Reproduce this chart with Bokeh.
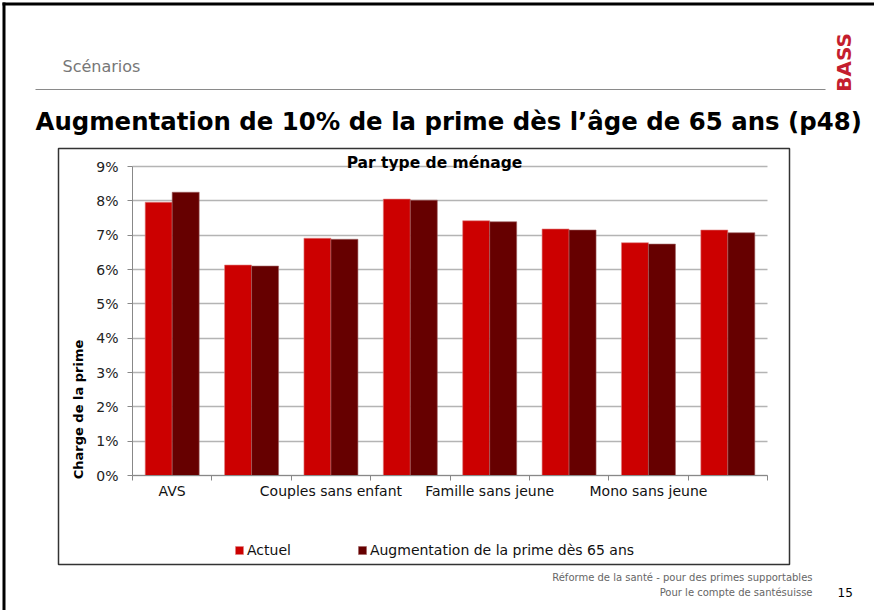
import numpy as np
from bokeh.plotting import figure
from bokeh.models import (Label, BoxAnnotation, Legend, LegendItem, FixedTicker,
                          Range1d)
from bokeh.embed import file_html
from bokeh.resources import INLINE

# ---------------- data ----------------
categories = ["AVS", "", "Couples sans enfant", "", "Famille sans jeune", "",
              "Mono sans jeune", ""]
series_names = ["Actuel", "Augmentation de la prime dès 65 ans"]
actuel = [7.96, 6.13, 6.91, 8.05, 7.42, 7.18, 6.78, 7.15]
augmentation = [8.25, 6.10, 6.88, 8.02, 7.39, 7.15, 6.74, 7.07]
y_ticks = [0, 1, 2, 3, 4, 5, 6, 7, 8, 9]
y_tick_labels = ["0%", "1%", "2%", "3%", "4%", "5%", "6%", "7%", "8%", "9%"]

slide_section = "Scénarios"
slide_title = "Augmentation de 10% de la prime dès l’âge de 65 ans (p48)"
chart_title = "Par type de ménage"
y_title = "Charge de la prime"
footer_1 = "Réforme de la santé - pour des primes supportables"
footer_2 = "Pour le compte de santésuisse"
page_number = "15"
logo = "BASS"

# ---------------- layout (pixel positions on the page) ----------------
W, H = 874, 610
OFF = 0                                  # figure's offset on the page
PL, PT, PR, PB = 132, 166, 767, 475      # plot area edges (page px)

FONT = "DejaVu Sans"
RED = "#CC0000"
DARK = "#660000"

n = len(categories)
x_lo, x_hi = 0.5, n + 0.5
y_lo, y_hi = y_ticks[0], y_ticks[-1]
kx = (PR - PL) / (x_hi - x_lo)
ky = (PB - PT) / (y_hi - y_lo)
x_start = x_lo - (PL - OFF) / kx
x_end = x_hi + (OFF + W - PR) / kx
y_start = y_lo - (OFF + H - PB) / ky
y_end = y_hi + (PT - OFF) / ky


def sx(ax):
    return ax - OFF


def sy(ay):
    return OFF + H - ay


xs = np.arange(1, n + 1)

p = figure(width=W, height=H, output_backend="svg", toolbar_location=None,
           x_range=Range1d(x_start, x_end), y_range=Range1d(y_start, y_end),
           min_border=0, min_border_left=0, min_border_right=0,
           min_border_top=0, min_border_bottom=0)
p.outline_line_color = None
p.background_fill_color = "white"
p.border_fill_color = "white"

r1 = p.vbar(x=xs - 0.17, top=actuel, width=0.34, fill_color=RED,
            line_color="#e08080", line_width=0.6)
r2 = p.vbar(x=xs + 0.17, top=augmentation, width=0.34, fill_color=DARK,
            line_color="#a06060", line_width=0.6)

# x axis
xa = p.xaxis[0]
xa.fixed_location = y_lo
xa.bounds = (x_lo, x_hi)
xa.ticker = FixedTicker(ticks=list(xs),
                        minor_ticks=list(np.arange(x_lo, x_hi + 0.5, 1.0)))
xa.major_label_overrides = {int(x): c for x, c in zip(xs, categories)}
xa.major_tick_out = 0
xa.major_tick_in = 0
xa.minor_tick_out = 5
xa.minor_tick_in = 0
xa.minor_tick_line_color = "#888888"
xa.axis_line_color = "#888888"
xa.major_label_standoff = 2
xa.major_label_text_font = FONT
xa.major_label_text_font_size = "14px"
xa.major_label_text_color = "#111111"
p.xgrid.grid_line_color = None

# y axis
ya = p.yaxis[0]
ya.fixed_location = x_lo
ya.bounds = (y_lo, y_hi)
ya.ticker = FixedTicker(ticks=y_ticks, minor_ticks=[])
ya.major_label_overrides = {t: l for t, l in zip(y_ticks, y_tick_labels)}
ya.major_tick_out = 5
ya.major_tick_in = 0
ya.major_tick_line_color = "#888888"
ya.axis_line_color = "#888888"
ya.major_label_standoff = 9
ya.major_label_text_font = FONT
ya.major_label_text_font_size = "14px"
ya.major_label_text_color = "#222222"
p.ygrid.grid_line_color = "#b4b4b4"
p.ygrid.grid_line_width = 1.5
p.ygrid.cross_bounds = (x_lo, x_hi)

# legend
legend = Legend(items=[LegendItem(label=series_names[0], renderers=[r1]),
                       LegendItem(label=series_names[1], renderers=[r2])],
                location=(sx(234), sy(558)), orientation="horizontal",
                glyph_width=10, glyph_height=10, label_standoff=3, spacing=66,
                padding=0, margin=0, label_height=14,
                label_text_font=FONT, label_text_font_size="14px",
                label_text_color="#111111",
                border_line_color=None, background_fill_alpha=0)
p.add_layout(legend)


def lab(ax, ay, text, size, align="left", bold=False, color="#000000", angle=0.0):
    p.add_layout(Label(x=sx(ax), y=sy(ay), x_units="screen", y_units="screen",
                       text=text, text_align=align, text_baseline="middle",
                       text_font=FONT, text_font_size=size,
                       text_font_style="bold" if bold else "normal",
                       text_color=color, angle=angle))


def box(l, r, t, b, fill=None, line=None, lw=1.0):
    p.add_layout(BoxAnnotation(left=sx(l), right=sx(r), top=sy(t), bottom=sy(b),
                               left_units="screen", right_units="screen",
                               top_units="screen", bottom_units="screen",
                               fill_color=fill, fill_alpha=1.0 if fill else 0.0,
                               line_color=line, line_alpha=1.0, line_width=lw,
                               level="overlay"))


# slide frame (top and left border)
box(2, 5, 2, 610, fill="#000000")
box(2, 874, 2, 5, fill="#000000")
# rule under section name
box(35, 825, 88.5, 89.5, fill="#8a8a8a")
# chart border
box(58, 789, 148, 564, line="#333333", lw=1.5)

lab(62, 66, slide_section, "16px", color="#777777")
lab(843, 62, logo, "20px", align="center", bold=True, color="#C41E2E", angle=np.pi / 2)
lab(35, 121, slide_title, "24.4px", bold=True)
lab(434, 162, chart_title, "15.5px", align="center", bold=True)
lab(78, 409, y_title, "13px", align="center", bold=True, angle=np.pi / 2)
lab(812, 577, footer_1, "10px", align="right", color="#666666")
lab(812, 592, footer_2, "10px", align="right", color="#666666")
lab(837, 592, page_number, "12px", color="#000000")

open("out.html", "w").write(file_html(p, INLINE))
